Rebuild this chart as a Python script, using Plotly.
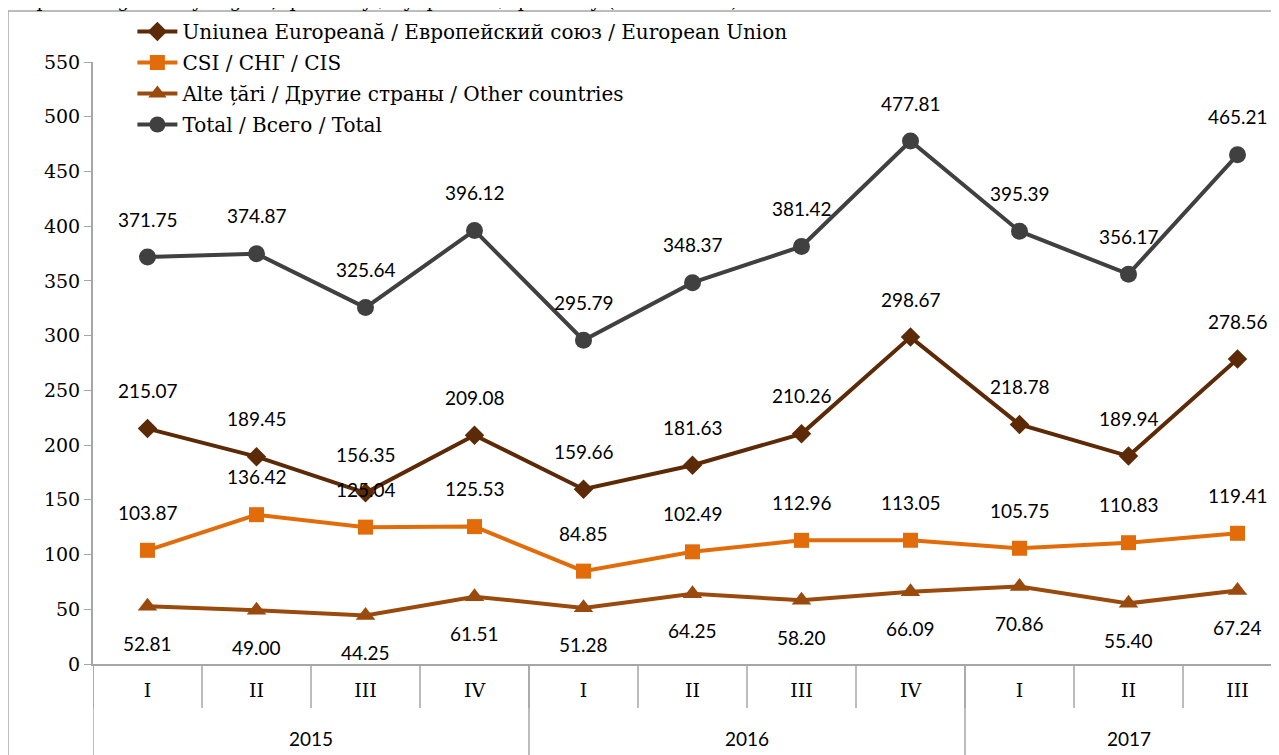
import plotly.graph_objects as go

# quarters and years on the x axis
quarters = ["I", "II", "III", "IV", "I", "II", "III", "IV", "I", "II", "III"]
years = ["2015", "2016", "2017"]
year_quarters = [4, 4, 3]

# exports by region, mil. USD
eu = [215.07, 189.45, 156.35, 209.08, 159.66, 181.63, 210.26, 298.67, 218.78, 189.94, 278.56]
csi = [103.87, 136.42, 125.04, 125.53, 84.85, 102.49, 112.96, 113.05, 105.75, 110.83, 119.41]
other = [52.81, 49.00, 44.25, 61.51, 51.28, 64.25, 58.20, 66.09, 70.86, 55.40, 67.24]
total = [371.75, 374.87, 325.64, 396.12, 295.79, 348.37, 381.42, 477.81, 395.39, 356.17, 465.21]

y_ticks = [0, 50, 100, 150, 200, 250, 300, 350, 400, 450, 500, 550]

serif = "DejaVu Serif"
sans = "Lato"
grey = "#A6A6A6"

# page body has an 8px margin, so the plot is placed 8px up/left of where it shows
L, T, PW, PH = 85, 54, 1194, 602
cat_w = 109

idx = list(range(len(quarters)))

series = [
    ("Uniunea Europeană / Европейский союз / European Union", eu, "#5C2A06", "diamond", 15, 38),
    ("CSI / СНГ / CIS", csi, "#E36C0A", "square", 15, 38),
    ("Alte țări / Другие страны / Other countries", other, "#9A4A0C", "triangle-up", 17, -37),
    ("Total / Всего / Total", total, "#404040", "circle", 17, 38),
]

fig = go.Figure()
for n_s, (name, vals, col, sym, size, shift) in enumerate(series):
    fig.add_trace(go.Scatter(
        x=idx, y=vals, name=name, mode="lines+markers", legendgroup=f"g{n_s}",
        line=dict(color=col, width=4),
        marker=dict(symbol=sym, size=size, color=col),
    ))
    for i, v in zip(idx, vals):
        fig.add_annotation(x=i, y=v, text=f"{v:.2f}", showarrow=False,
                           yshift=shift, yanchor="middle",
                           font=dict(family=sans, size=19, color="#000000"))

# quarter separators and year labels
for k in range(len(quarters) + 1):
    fig.add_shape(type="line", xref="x", yref="paper", x0=k - 0.5, x1=k - 0.5,
                  y0=0, y1=-44 / PH, line=dict(color=grey, width=1.5))
start = 0
for yr, n in zip(years, year_quarters):
    fig.add_shape(type="line", xref="x", yref="paper", x0=start - 0.5, x1=start - 0.5,
                  y0=0, y1=-0.2, line=dict(color=grey, width=1.5))
    fig.add_annotation(x=start + (n - 1) / 2, y=-74 / PH, xref="x", yref="paper",
                       yanchor="middle", text=yr, showarrow=False,
                       font=dict(family=sans, size=19, color="#000000"))
    start += n

# outer chart border (cut by the picture edges)
fig.add_shape(type="rect", xref="paper", yref="paper",
              x0=-85 / PW, x1=1.05, y0=-0.3, y1=1 + 51 / PH,
              line=dict(color=grey, width=1.5), layer="below")

# title, mostly cut off at the top
fig.add_annotation(xref="paper", yref="paper", x=-83 / PW, y=1 + 49 / PH,
                   xanchor="left", yanchor="bottom", showarrow=False,
                   text="Exports of goods by region, quarterly / by quarter / quarterly (USD million)",
                   font=dict(family=serif, size=19, color="#000000"))

fig.update_layout(
    width=1279, height=755,
    margin=dict(l=L, r=1279 - L - PW, t=T, b=755 - T - PH),
    paper_bgcolor="white", plot_bgcolor="white",
    showlegend=True,
    legend=dict(x=0.033, y=1 + 50 / PH, xanchor="left", yanchor="top",
                bgcolor="rgba(0,0,0,0)", font=dict(family=serif, size=20, color="#000000"),
                tracegroupgap=2, itemwidth=40),
    xaxis=dict(tickmode="array", tickvals=idx, ticktext=quarters,
               range=[-0.5, PW / cat_w - 0.5], ticklabelstandoff=8,
               showline=True, linecolor=grey, linewidth=2, ticks="", showgrid=False,
               zeroline=False, tickfont=dict(family=serif, size=19, color="#000000")),
    yaxis=dict(range=[0, 550], tickvals=y_ticks, showline=True, linecolor=grey,
               linewidth=2, ticks="outside", ticklen=7, tickcolor=grey, showgrid=False,
               zeroline=False, tickfont=dict(family=serif, size=19, color="#000000")),
)

fig.write_html("out.html")
